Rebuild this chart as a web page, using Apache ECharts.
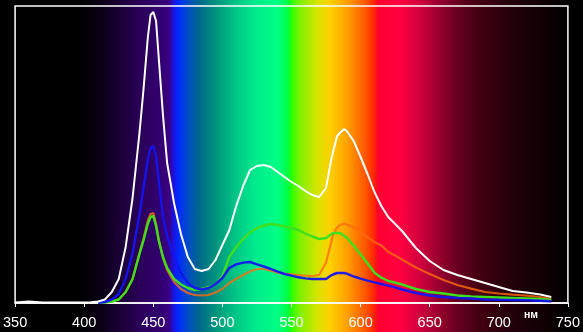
<!DOCTYPE html>
<html><head><meta charset="utf-8">
<script src="https://cdn.jsdelivr.net/npm/echarts@6/dist/echarts.min.js"></script>
<style>html,body{margin:0;padding:0;background:#000;}#c{width:583px;height:332px;}</style>
</head><body><div id="c"></div>
<script>
const wavelengths = [350,360,370,380,390,400,405,410,415,420,425,430,435,440,443,446,448,450,452,454,457,460,465,470,475,480,485,490,495,500,505,510,515,520,525,530,535,540,545,550,555,560,565,570,575,578,580,583,585,588,590,593,595,600,605,610,615,620,625,630,640,650,660,670,680,690,700,710,720,730,738];
const whiteVals = [0.5,1.5,0.5,0.5,0.5,0.5,0.7,1.5,3.5,11,24,56,105,170,215,265,288,291,282,244,188,140,100,69,46,34,32,34,43,58,73,97,117,133,137,138,136,131,126,121,117,112,108,106,115,138,151,167,170,174,172,166,162,146,129,111,97,86,79,72,55,42,33,28,24,20,16,12,10.5,8.5,6];
const blueVals = [null,null,null,null,null,null,null,0.3,1,3.5,9,24,50,88,116,143,155,157,147,122,86,67,45,30,20,15,13.5,15,19,25,35,38.6,40.4,41,38.6,36.5,34,31.4,29,27.3,25.7,24.6,24,24,24,27,28.5,30,30,30,29.3,27.6,26.5,24.3,22.4,20.7,19,17.3,15.6,13.5,10,7.5,6,5,4.5,3.5,3.2,3,2.7,2.3,1.8];
const greenVals = [null,null,null,null,null,null,null,0.3,0.5,1.5,3.5,11,24,49,63,79,86,87,77,62,46,35,24,18.5,15,13,14,16,19,27,46,56,64,70.5,75,77.5,79,78,76.5,75,73,69.5,66.5,64,65,68,70,70,70,67.3,65.5,60.4,57.3,48.5,39.5,30.4,25.3,22,20.4,18.5,14,11,9.5,7.5,6.5,6,5.5,5,4.5,4,3];
const orangeVals = [null,null,null,null,null,null,null,0.3,0.5,1.5,3.5,11,24,50,65,82,89,90,79,63,45,33,21,14,10,8,7.5,8,10.5,14,20,24.3,28,31.5,34,34,32.4,30.3,29.4,28.7,28,27.3,27,28,40.5,57,67.4,75.7,77.7,79.5,78.5,76.7,75.5,71.2,65.6,61,57.6,51,47.5,43.5,35.5,29,23,18,14.4,11,9.5,8.3,7.3,6,4];
const tickLabels = [350,400,450,500,550,600,650,700,750];
const unitLabel = 'нм';

const pairs = vals => wavelengths.map((w,i) => [w, vals[i]]);
const W = 583;
const stops = [
 [0,'#000000'],[80,'#000000'],[100,'#0a0014'],[120,'#1a0036'],[140,'#2a0058'],[160,'#320070'],[169,'#3a0080'],
 [173,'#2010d8'],[178,'#0028ff'],[186,'#0046d0'],[200,'#006a88'],[215,'#00927e'],[235,'#00c484'],[255,'#00ea8c'],
 [278,'#00ff84'],[288,'#00ff40'],[292,'#30ff00'],[300,'#80f000'],[318,'#d8e400'],[330,'#ffd000'],[347,'#ffa000'],
 [365,'#ff5800'],[374,'#ff2800'],[378,'#ff0030'],[400,'#ff0040'],[420,'#d0003e'],[440,'#94002e'],[460,'#620020'],
 [480,'#420012'],[512,'#22000a'],[545,'#100004'],[566,'#000000'],[583,'#000000']
].map(s => ({offset: s[0]/W, color: s[1]}));

const chart = echarts.init(document.getElementById('c'), null, {renderer:'canvas'});
const lineS = (name, vals, color, width, opacity, z) => ({
  name, type:'line', data: pairs(vals), showSymbol:false, symbol:'none', smooth:false,
  connectNulls:false, z, lineStyle:{color, width, opacity}, animation:false
});
chart.setOption({
  animation:false,
  backgroundColor:'#000',
  graphic:[
    {type:'rect', z:-10, silent:true, shape:{x:0,y:0,width:583,height:332},
     style:{fill:new echarts.graphic.LinearGradient(0,0,1,0,stops)}},
    {type:'text', z:10, left:524, top:310, style:{text:unitLabel, fill:'#fff', font:'bold 10.5px "Liberation Sans", Arial, sans-serif'}}
  ],
  grid:{left:14, right:14, top:6, bottom:29, show:true, borderColor:'#fff', borderWidth:1.5, backgroundColor:'transparent'},
  xAxis:{type:'value', min:350, max:750, interval:50,
    axisLine:{show:true, lineStyle:{color:'#fff', width:1.5}},
    axisTick:{show:true, length:4, lineStyle:{color:'#fff', width:1}},
    axisLabel:{color:'#fff', fontSize:14.5, fontFamily:'"Liberation Sans Narrow", "Liberation Sans", Arial, sans-serif', margin:12,
      formatter: v => tickLabels.includes(v) ? String(v) : ''},
    splitLine:{show:false}},
  yAxis:{type:'value', min:0, max:297, show:false, splitLine:{show:false}},
  series:[
    lineS('orange', orangeVals, '#ff6a10', 2.2, 0.8, 2),
    lineS('green', greenVals, '#3ee01c', 2.4, 1, 3),
    lineS('blue', blueVals, '#1414f0', 2.4, 0.95, 4),
    lineS('white', whiteVals, '#ffffff', 2, 1, 5)
  ]
});
</script></body></html>
